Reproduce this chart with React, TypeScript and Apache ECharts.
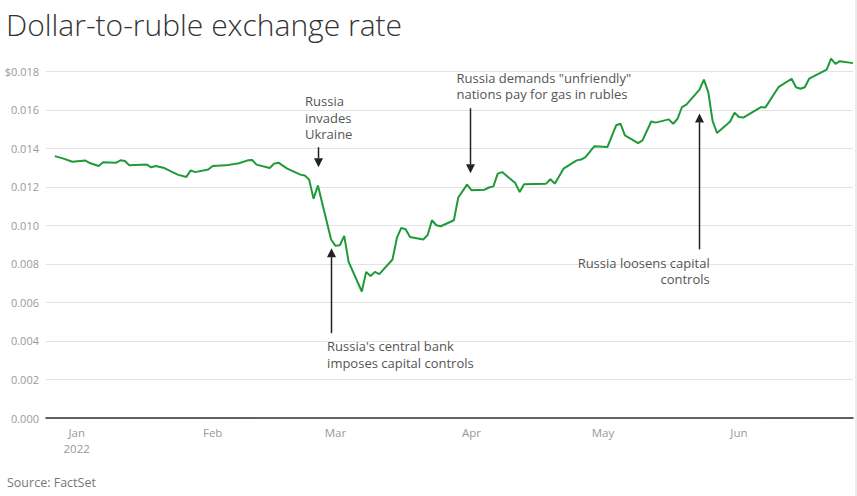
import React, { useEffect, useRef } from 'react';
import * as echarts from 'echarts';

const TITLE = 'Dollar-to-ruble exchange rate';
const SOURCE = 'Source: FactSet';
const MONTHS = ['Jan', 'Feb', 'Mar', 'Apr', 'May', 'Jun', 'Jul', 'Aug', 'Sep', 'Oct', 'Nov', 'Dec'];

const dates = [
  '2021-12-27', '2021-12-29', '2021-12-31', '2022-01-03', '2022-01-04', '2022-01-06', '2022-01-07',
  '2022-01-10', '2022-01-11', '2022-01-12', '2022-01-13', '2022-01-17', '2022-01-18', '2022-01-19',
  '2022-01-21', '2022-01-24', '2022-01-26', '2022-01-27', '2022-01-28', '2022-01-31', '2022-02-01',
  '2022-02-04', '2022-02-07', '2022-02-09', '2022-02-10', '2022-02-11', '2022-02-14', '2022-02-15',
  '2022-02-16', '2022-02-18', '2022-02-21', '2022-02-22', '2022-02-23', '2022-02-24', '2022-02-25',
  '2022-02-28', '2022-03-01', '2022-03-02', '2022-03-03', '2022-03-04', '2022-03-07', '2022-03-08',
  '2022-03-09', '2022-03-10', '2022-03-11', '2022-03-14', '2022-03-15', '2022-03-16', '2022-03-17',
  '2022-03-18', '2022-03-21', '2022-03-22', '2022-03-23', '2022-03-24', '2022-03-25', '2022-03-28',
  '2022-03-29', '2022-03-31', '2022-04-01', '2022-04-04', '2022-04-05', '2022-04-06', '2022-04-07',
  '2022-04-08', '2022-04-11', '2022-04-12', '2022-04-13', '2022-04-18', '2022-04-19', '2022-04-20',
  '2022-04-22', '2022-04-25', '2022-04-26', '2022-04-27', '2022-04-29', '2022-05-02', '2022-05-04',
  '2022-05-05', '2022-05-06', '2022-05-09', '2022-05-10', '2022-05-12', '2022-05-13', '2022-05-16',
  '2022-05-17', '2022-05-18', '2022-05-19', '2022-05-20', '2022-05-23', '2022-05-24', '2022-05-25',
  '2022-05-26', '2022-05-27', '2022-05-30', '2022-05-31', '2022-06-01', '2022-06-02', '2022-06-06',
  '2022-06-07', '2022-06-10', '2022-06-13', '2022-06-14', '2022-06-15', '2022-06-16', '2022-06-17',
  '2022-06-21', '2022-06-22', '2022-06-23', '2022-06-24', '2022-06-27',
];

const rates = [
  0.01360, 0.01347, 0.01331, 0.01337, 0.01324, 0.01309, 0.01328,
  0.01326, 0.01338, 0.01335, 0.01312, 0.01316, 0.01302, 0.01309,
  0.01298, 0.01264, 0.01252, 0.01286, 0.01277, 0.01291, 0.01309,
  0.01312, 0.01323, 0.01338, 0.01340, 0.01316, 0.01298, 0.01321,
  0.01326, 0.01295, 0.01264, 0.01259, 0.01238, 0.01139, 0.01207,
  0.00927, 0.00894, 0.00897, 0.00946, 0.00811, 0.00657, 0.00759,
  0.00737, 0.00759, 0.00747, 0.00823, 0.00935, 0.00987, 0.00980,
  0.00940, 0.00927, 0.00949, 0.01027, 0.01001, 0.00996, 0.01027,
  0.01145, 0.01212, 0.01183, 0.01186, 0.01197, 0.01203, 0.01269,
  0.01277, 0.01220, 0.01174, 0.01214, 0.01217, 0.01240, 0.01217,
  0.01295, 0.01338, 0.01342, 0.01355, 0.01411, 0.01407, 0.01520,
  0.01528, 0.01468, 0.01428, 0.01442, 0.01540, 0.01534, 0.01551,
  0.01528, 0.01554, 0.01615, 0.01627, 0.01705, 0.01757, 0.01692,
  0.01542, 0.01480, 0.01540, 0.01586, 0.01563, 0.01560, 0.01615,
  0.01612, 0.01718, 0.01762, 0.01718, 0.01710, 0.01718, 0.01762,
  0.01809, 0.01866, 0.01839, 0.01853, 0.01843,
];

const X_MIN = '2021-12-25';
const X_MAX = '2022-06-27';
const Y_MIN = 0;
const Y_MAX = 0.018;
const Y_STEP = 0.002;

// annotations: anchor (date, value) at the arrow tip
const annotationTexts = [
  'Russia\ninvades\nUkraine',
  "Russia's central bank\nimposes capital controls",
  'Russia demands "unfriendly"\nnations pay for gas in rubles',
  'Russia loosens capital\ncontrols',
];
const annotationDates = ['2022-02-25', '2022-02-28', '2022-03-31 14:00', '2022-05-23'];
const annotationValues = [0.01302, 0.00882, 0.01271, 0.01582];

const FONT = '"Open Sans", Lato, sans-serif';

export default function App() {
  const ref = useRef<HTMLDivElement>(null);

  useEffect(() => {
    if (!ref.current) return;
    const chart = echarts.init(ref.current, undefined, { renderer: 'svg' });
    const seriesData = dates.map((d, i) => [d, rates[i]]);

    chart.setOption({
      animation: false,
      backgroundColor: '#ffffff',
      textStyle: { fontFamily: FONT },
      grid: { left: 46, right: 4, top: 71.4, bottom: 78, containLabel: false },
      xAxis: {
        type: 'time',
        min: X_MIN,
        max: X_MAX,
        splitNumber: 6,
        minInterval: 28 * 86400000,
        maxInterval: 31 * 86400000,
        axisLine: { show: true, lineStyle: { color: '#333333', width: 1.5 } },
        axisTick: { show: false },
        splitLine: { show: false },
        axisLabel: {
          color: '#999999',
          fontSize: 11.5,
          fontFamily: FONT,
          lineHeight: 16,
          margin: 6,
          hideOverlap: false,
          interval: 0,
          showMinLabel: true,
          showMaxLabel: true,
          formatter: (value: number) => {
            const d = new Date(value);
            if (d.getDate() !== 1 || d.getHours() !== 0) return '';
            const m = MONTHS[d.getMonth()];
            return d.getMonth() === 0 ? m + '\n' + d.getFullYear() : m;
          },
        },
      },
      yAxis: {
        type: 'value',
        min: Y_MIN,
        max: Y_MAX,
        interval: Y_STEP,
        axisLine: { show: false },
        axisTick: { show: false },
        splitLine: { show: true, lineStyle: { color: '#e3e3e3', width: 1 } },
        axisLabel: {
          color: '#9a9a9a',
          fontSize: 11,
          fontFamily: FONT,
          margin: 7,
          formatter: (v: number) => {
            const s = v.toFixed(3);
            return Math.abs(v - Y_MAX) < 1e-9 ? '$' + s : s;
          },
        },
      },
      series: [
        {
          type: 'line',
          data: seriesData,
          showSymbol: false,
          clip: false,
          lineStyle: { color: '#1f9a38', width: 2 },
          itemStyle: { color: '#1f9a38' },
        },
      ],
    });

    // layout of each annotation relative to its arrow tip
    const layouts = [
      { tail: -20, dx: -13.5, dy: -74.6, align: 'left' },
      { tail: 85, dx: -4.4, dy: 89.6, align: 'left' },
      { tail: -65, dx: -14, dy: -104, align: 'left' },
      { tail: 136, dx: 10.2, dy: 141, align: 'right' },
    ];

    const graphics: any[] = [
      {
        type: 'text',
        style: {
          x: 6, y: 24, text: TITLE, fill: '#333333', fontSize: 30, fontFamily: FONT,
          fontWeight: 300, textVerticalAlign: 'middle',
        },
      },
      {
        type: 'text',
        style: {
          x: 7, y: 482.5, text: SOURCE, fill: '#777777', fontSize: 12.5, fontFamily: FONT,
          textVerticalAlign: 'middle',
        },
      },
      {
        type: 'line',
        shape: { x1: 856, y1: 0, x2: 856, y2: 496 },
        style: { stroke: '#d6d6d6', lineWidth: 1 },
      },
    ];

    annotationTexts.forEach((txt, i) => {
      const p = chart.convertToPixel({ gridIndex: 0 }, [annotationDates[i], annotationValues[i]]) as number[];
      const L = layouts[i];
      const x = Math.round(p[0]) + 0.5;
      const tipY = p[1];
      const tailY = tipY + L.tail;
      const dir = L.tail < 0 ? 1 : -1; // 1: arrow points down
      const headLen = 9;
      const baseY = tipY - dir * headLen;
      graphics.push({
        type: 'line',
        shape: { x1: x, y1: tailY, x2: x, y2: baseY },
        style: { stroke: '#222222', lineWidth: 1.5 },
      });
      graphics.push({
        type: 'polygon',
        shape: { points: [[x, tipY], [x - 4.5, baseY], [x + 4.5, baseY]] },
        style: { fill: '#222222' },
      });
      graphics.push({
        type: 'text',
        style: {
          x: x + L.dx,
          y: tipY + L.dy,
          text: txt,
          fill: '#555555',
          fontSize: 13,
          lineHeight: 16.7,
          fontFamily: FONT,
          textAlign: L.align,
          textVerticalAlign: 'top',
        },
      });
    });

    chart.setOption({ graphic: graphics });

    return () => chart.dispose();
  }, []);

  return <div ref={ref} style={{ width: 857, height: 496, position: 'absolute', left: 0, top: 0 }} />;
}
